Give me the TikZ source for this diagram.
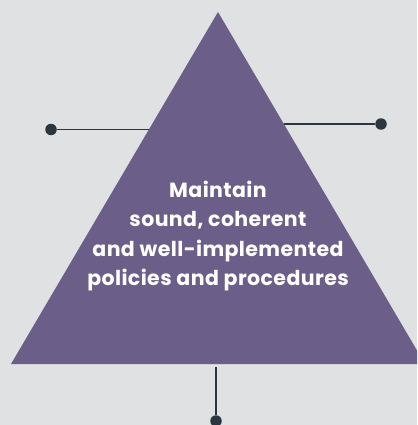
\documentclass[tikz,border=0pt]{standalone}
\usepackage{fontspec}
\setmainfont{Poppins}[LetterSpace=2]
\usepackage{tikz}
\usetikzlibrary{positioning, calc}
\usepackage{xcolor}
\definecolor{paper}{RGB}{224,225,227}
\definecolor{plum}{RGB}{107,94,137}
\definecolor{slate}{RGB}{44,54,64}

\begin{document}
\begin{tikzpicture}[x=1pt, y=-1pt,
    dot/.style={circle, fill=slate, inner sep=0pt, minimum size=11.5pt},
    link/.style={slate, line width=1.8pt},
    label/.style={text=white, align=center, font=\fontsize{20.5}{29.5}\selectfont\bfseries}]
  \fill[paper] (0,0) rectangle (417,425);
  \useasboundingbox (0,0) rectangle (417,425);
  \begin{scope}
    \clip (0,0) rectangle (417,425);
    % corners of the triangle
    \coordinate (apex) at (218,12);
    \coordinate (bl) at (11,364);
    \coordinate (br) at (425,364);
    \fill[plum] (apex) -- (br) -- (bl) -- cycle;
    % where the lines meet the triangle
    \coordinate (lhit) at (149,129.5);
    \coordinate (rhit) at (284,124);
    \coordinate (bhit) at (216,367);
    \node[dot] (ldot) at (51,129.5) {};
    \node[dot] (rdot) at (381,124) {};
    \node[dot] (bdot) at (216,421) {};
    \draw[link] (ldot) -- (lhit);
    \draw[link] (rdot) -- (rhit);
    \draw[link] (bdot) -- (bhit);
  \end{scope}
  \node[label] (goal) at (218,236) {Maintain\\sound, coherent\\and well-implemented\\policies and procedures};
\end{tikzpicture}
\end{document}
